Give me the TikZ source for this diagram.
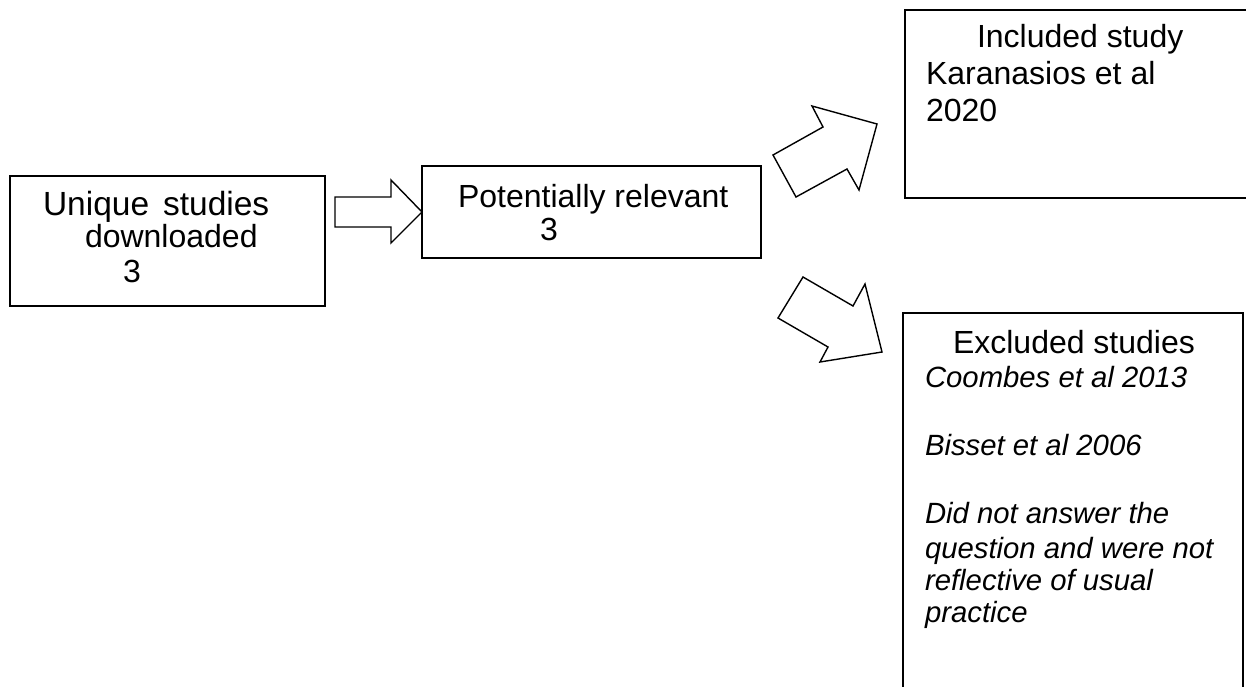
\documentclass[tikz,border=0pt]{standalone}
\usepackage{fontspec}
\setmainfont{Liberation Sans}
\begin{document}
\begin{tikzpicture}[x=1pt,y=-1pt,
  boxline/.style={draw=black,line width=1.4pt},
  txt/.style={anchor=base west,inner sep=0pt,outer sep=0pt,font=\fontsize{32}{34}\selectfont},
  itxt/.style={txt,font=\fontsize{29.3}{34}\selectfont\itshape},
  blockarrow/.style={draw=black,line width=1.4pt,line join=miter,fill=white}]
\useasboundingbox (0,0) rectangle (1246,687);
\clip (0,0) rectangle (1246,687);
% boxes
\draw[boxline] (10,176) rectangle (325,306);
\draw[boxline] (422,166) rectangle (761,258);
\draw[boxline] (905,10) rectangle (1270,198);
\draw[boxline] (903,313) rectangle (1243,710);
% box 1 text
\node[txt,font=\fontsize{33.5}{34}\selectfont] (u1) at (43,215) {Unique\hspace{14pt}studies};
\node[txt] (u2) at (85,247) {downloaded};
\node[txt] (u3) at (123,282) {3};
% box 2 text
\node[txt] (p1) at (458,207) {Potentially relevant};
\node[txt] (p2) at (540,240) {3};
% box 3 text
\node[txt] (i1) at (977,48) {Included study};
\node[txt] (i2) at (926,85) {Karanasios et al};
\node[txt] (i3) at (926,122) {2020};
% box 4 text
\node[txt] (e1) at (953,353) {Excluded studies};
\node[itxt] (e2) at (925,387) {Coombes et al 2013};
\node[itxt] (e3) at (925,455) {Bisset et al 2006};
\node[itxt] (e4) at (925,523) {Did not answer the};
\node[itxt] (e5) at (925,558) {question and were not};
\node[itxt] (e6) at (925,590) {reflective of usual};
\node[itxt] (e7) at (925,622) {practice};
% block arrows
\draw[blockarrow] (335,197) -- (391,197) -- (391,180) -- (422,212) -- (391,243) -- (391,227) -- (335,227) -- cycle;
\draw[blockarrow] (773,155) -- (823,127) -- (812,106) -- (877,124) -- (859,190) -- (847,169) -- (796,197) -- cycle;
\draw[blockarrow] (778,318) -- (803,277) -- (853,306) -- (865,284) -- (882,352) -- (820,362) -- (828,347) -- cycle;
\end{tikzpicture}
\end{document}
